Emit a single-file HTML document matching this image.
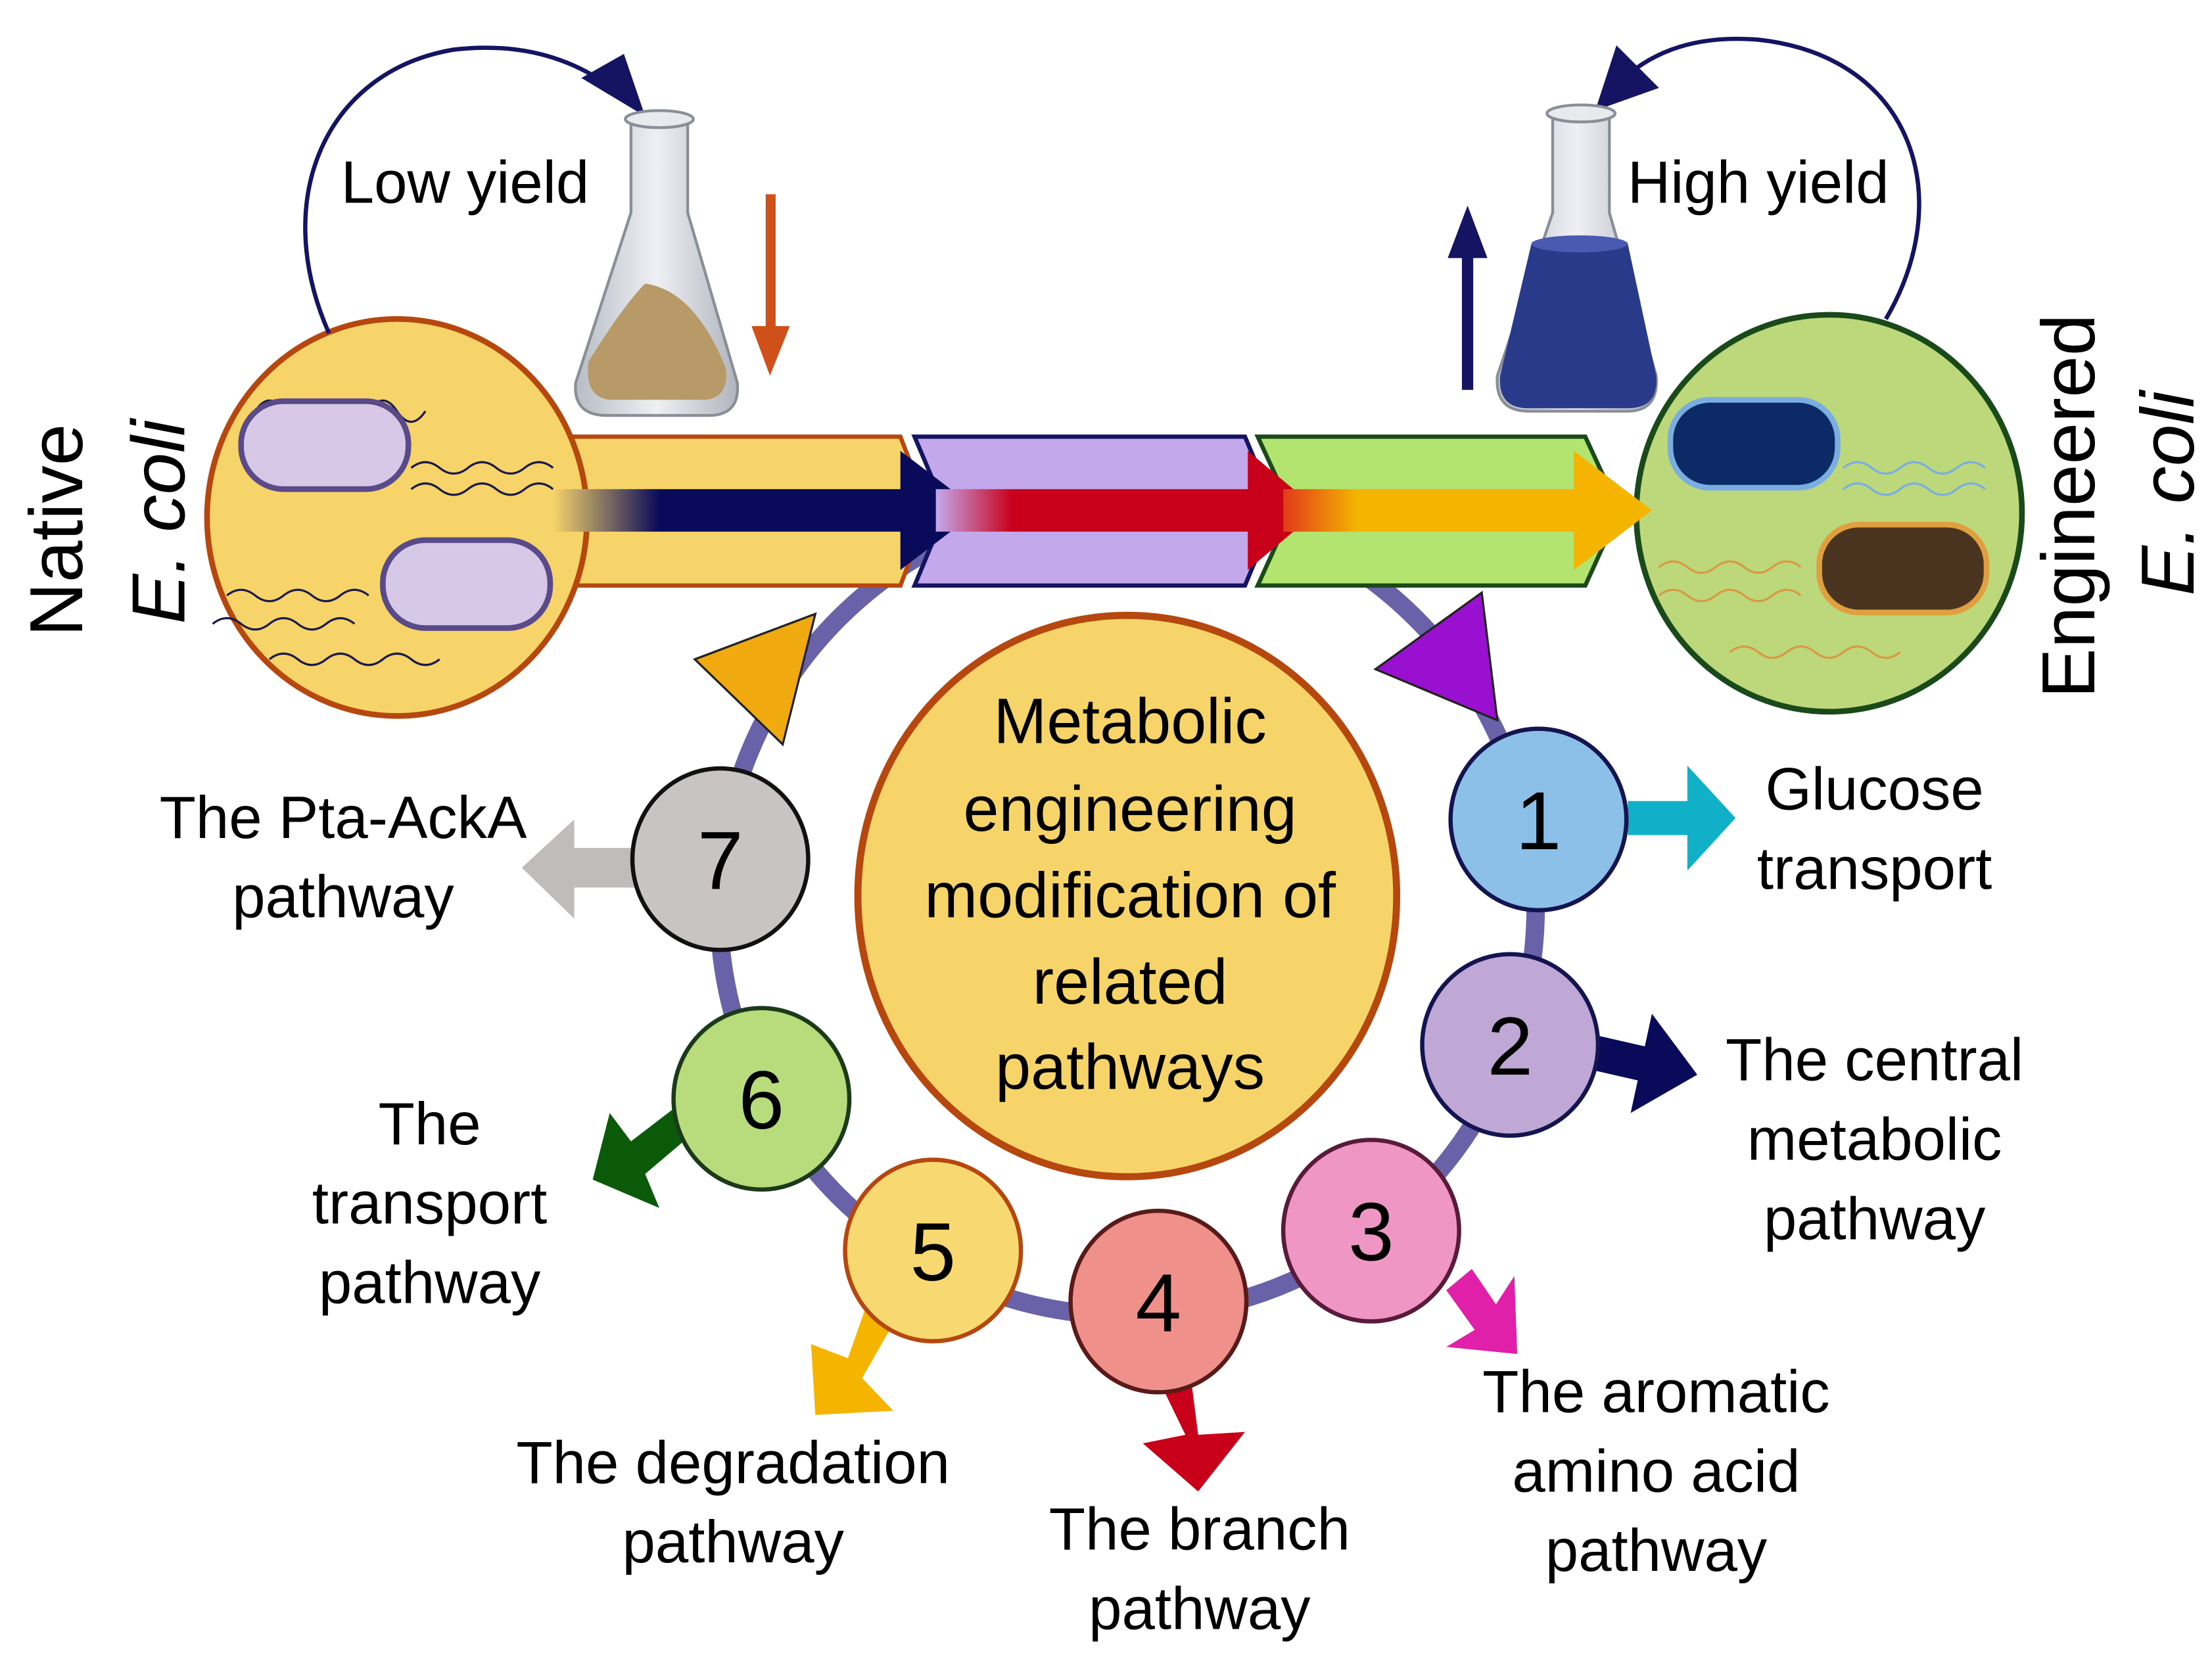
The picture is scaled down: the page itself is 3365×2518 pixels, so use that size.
<!DOCTYPE html>
<html><head><meta charset="utf-8"><style>
html,body{margin:0;padding:0;background:#fff}
svg{display:block}
text{font-family:"Liberation Sans",Arial,sans-serif;fill:#000}
</style></head><body>
<svg width="3365" height="2518" viewBox="0 0 1560 1167.3" preserveAspectRatio="none" xmlns="http://www.w3.org/2000/svg">
<defs>
<linearGradient id="g1" x1="0" x2="1"><stop offset="0" stop-color="#f6d469"/><stop offset="0.25" stop-color="#0a0a5a"/><stop offset="1" stop-color="#0a0a5a"/></linearGradient>
<linearGradient id="g2" x1="0" x2="1"><stop offset="0" stop-color="#c4a8ec"/><stop offset="0.2" stop-color="#c8001a"/><stop offset="1" stop-color="#c8001a"/></linearGradient>
<linearGradient id="g3" x1="0" x2="1"><stop offset="0" stop-color="#e23a1a"/><stop offset="0.2" stop-color="#f4b400"/><stop offset="1" stop-color="#f4b400"/></linearGradient>
<linearGradient id="fl" x1="0" x2="1"><stop offset="0" stop-color="#b8bcc4"/><stop offset="0.5" stop-color="#eef0f4"/><stop offset="1" stop-color="#b0b4bc"/></linearGradient>
</defs>

<circle cx="795" cy="640" r="288" fill="none" stroke="#6a62a8" stroke-width="13"/>

<polygon points="400,308 635,308 655,360 635,413 400,413" fill="#f6d469" stroke="#b5470f" stroke-width="3"/>
<polygon points="645,308 878,308 900,360 878,413 645,413 667,360" fill="#c4a8ec" stroke="#141463" stroke-width="3"/>
<polygon points="887,308 1118,308 1142,360 1118,413 887,413 911,360" fill="#b4e470" stroke="#1a4a1a" stroke-width="3"/>

<ellipse cx="280" cy="365" rx="134" ry="140" fill="#f6d469" stroke="#b5470f" stroke-width="4"/>
<g fill="none" stroke="#1a1a4a" stroke-width="1.5">
<path d="M180,290 q10,-15 20,0 t20,0 t20,0 t20,0 t20,0 t20,0"/>
<path d="M290,330 q10,-8 20,0 t20,0 t20,0 t20,0 t20,0"/>
<path d="M290,345 q10,-8 20,0 t20,0 t20,0 t20,0 t20,0"/>
<path d="M160,420 q10,-8 20,0 t20,0 t20,0 t20,0 t20,0"/>
<path d="M150,440 q10,-8 20,0 t20,0 t20,0 t20,0 t20,0"/>
<path d="M190,465 q10,-8 20,0 t20,0 t20,0 t20,0 t20,0 t20,0"/>
</g>
<rect x="170" y="283" width="118" height="62" rx="30" fill="#d8c8e8" stroke="#5a4a8a" stroke-width="4"/>
<rect x="270" y="381" width="118" height="62" rx="30" fill="#d8c8e8" stroke="#5a4a8a" stroke-width="4"/>

<ellipse cx="1290" cy="362" rx="136" ry="140" fill="#bcd87a" stroke="#1a4a1a" stroke-width="4"/>
<g fill="none" stroke-width="1.5">
<path d="M1300,330 q10,-8 20,0 t20,0 t20,0 t20,0 t20,0" stroke="#7aaee0"/>
<path d="M1300,345 q10,-8 20,0 t20,0 t20,0 t20,0 t20,0" stroke="#7aaee0"/>
<path d="M1170,400 q10,-8 20,0 t20,0 t20,0 t20,0 t20,0" stroke="#d89a40"/>
<path d="M1170,420 q10,-8 20,0 t20,0 t20,0 t20,0 t20,0" stroke="#d89a40"/>
<path d="M1220,460 q10,-8 20,0 t20,0 t20,0 t20,0 t20,0 t20,0" stroke="#d89a40"/>
</g>
<rect x="1178" y="282" width="118" height="62" rx="28" fill="#0c2a66" stroke="#7aaee0" stroke-width="4"/>
<rect x="1283" y="370" width="118" height="62" rx="28" fill="#4a3420" stroke="#e0a040" stroke-width="4"/>

<polygon points="390,345 635,345 635,318 690,360 635,402 635,375 390,375" fill="url(#g1)"/>
<polygon points="660,345 880,345 880,318 930,360 880,402 880,375 660,375" fill="url(#g2)"/>
<polygon points="905,345 1110,345 1110,318 1165,360 1110,402 1110,375 905,375" fill="url(#g3)"/>

<path d="M232,235 C190,140 230,50 320,35 C380,28 420,50 440,70" fill="none" stroke="#141463" stroke-width="3"/>
<polygon points="410,55 455,82 440,38" fill="#141463"/>
<path d="M1330,225 C1380,140 1350,40 1240,28 C1190,24 1160,40 1140,60" fill="none" stroke="#141463" stroke-width="3"/>
<polygon points="1125,78 1170,62 1140,32" fill="#141463"/>

<g>
<path d="M445,85 L485,85 L485,150 L520,270 Q522,293 500,293 L428,293 Q404,293 406,270 L445,150 Z" fill="url(#fl)" stroke="#8a8e96" stroke-width="2"/>
<ellipse cx="465" cy="84" rx="24" ry="6" fill="#e8eaee" stroke="#8a8e96" stroke-width="2"/>
<path d="M415,255 Q440,215 455,200 Q490,205 512,260 Q514,280 498,282 L430,282 Q412,280 415,255 Z" fill="#b89a68"/>
</g>
<g>
<path d="M1095,82 L1135,82 L1135,150 L1168,265 Q1170,290 1148,290 L1078,290 Q1054,290 1056,265 L1095,150 Z" fill="url(#fl)" stroke="#8a8e96" stroke-width="2"/>
<ellipse cx="1115" cy="80" rx="24" ry="6" fill="#e8eaee" stroke="#8a8e96" stroke-width="2"/>
<path d="M1080,172 L1148,172 L1168,265 Q1170,288 1148,288 L1078,288 Q1056,288 1058,265 Z" fill="#2a3a8a"/>
<ellipse cx="1114" cy="172" rx="34" ry="6" fill="#4a5ab0"/>
</g>
<rect x="540" y="137" width="7" height="95" fill="#d0501a"/><polygon points="530,230 557,230 543,265" fill="#d0501a"/>
<rect x="1031" y="180" width="8" height="95" fill="#141463"/><polygon points="1021,182 1049,182 1035,145" fill="#141463"/>

<polygon points="490,465 575,433 552,525" fill="#f0aa10" stroke="#222" stroke-width="1.5"/>
<polygon points="970,472 1045,418 1056,508" fill="#9a10d0" stroke="#222" stroke-width="1.5"/>

<ellipse cx="795" cy="632" rx="190" ry="198" fill="#f6d469" stroke="#b5470f" stroke-width="5"/>
<g font-size="45" text-anchor="middle">
<text x="797" y="524">Metabolic</text>
<text x="797" y="586">engineering</text>
<text x="797" y="647">modification of</text>
<text x="797" y="708">related</text>
<text x="797" y="768">pathways</text>
</g>

<polygon points="1148,565 1190,565 1190,540 1224,577 1190,614 1190,589 1148,589" fill="#10b0c8"/>
<polygon points="1125,730 1160,738 1165,715 1197,758 1150,785 1155,762 1120,754" fill="#0a0a5a"/>
<polygon points="1020,910 1038,895 1055,920 1068,900 1070,955 1020,950 1040,938" fill="#e020a8"/>
<polygon points="818,975 840,973 845,1012 878,1010 845,1052 806,1018 836,1012" fill="#c8001a"/>
<polygon points="632,930 612,918 598,958 572,948 575,998 630,995 608,972" fill="#f4b400"/>
<polygon points="488,800 475,782 445,805 430,785 418,832 465,852 455,828" fill="#0a5a0a"/>
<polygon points="448,598 405,598 405,578 368,612 405,648 405,626 448,626" fill="#c0bcbc"/>

<g stroke="#141450" stroke-width="3">
<ellipse cx="1085" cy="578" rx="62" ry="64" fill="#8cc0e8"/>
<ellipse cx="1065" cy="737" rx="62" ry="64" fill="#c0a8d6"/>
<ellipse cx="967" cy="868" rx="62" ry="64" fill="#f096c4" stroke="#5a1a3a"/>
<ellipse cx="817" cy="918" rx="62" ry="64" fill="#f0908a" stroke="#5a1a1a"/>
<ellipse cx="658" cy="882" rx="62" ry="64" fill="#f8d870" stroke="#b5470f"/>
<ellipse cx="537" cy="775" rx="62" ry="64" fill="#b8dc7c" stroke="#1a3a1a"/>
<ellipse cx="508" cy="606" rx="62" ry="64" fill="#c8c4c4" stroke="#111"/>
</g>
<g font-size="58" text-anchor="middle">
<text x="1085" y="599">1</text><text x="1065" y="758">2</text><text x="967" y="889">3</text>
<text x="817" y="939">4</text><text x="658" y="903">5</text><text x="537" y="796">6</text><text x="508" y="627">7</text>
</g>

<g font-size="42" text-anchor="middle">
<text x="1322" y="571">Glucose</text><text x="1322" y="627">transport</text>
<text x="1322" y="762">The central</text><text x="1322" y="818">metabolic</text><text x="1322" y="874">pathway</text>
<text x="1168" y="996">The aromatic</text><text x="1168" y="1052">amino acid</text><text x="1168" y="1108">pathway</text>
<text x="846" y="1093">The branch</text><text x="846" y="1149">pathway</text>
<text x="517" y="1046">The degradation</text><text x="517" y="1102">pathway</text>
<text x="303" y="807">The</text><text x="303" y="863">transport</text><text x="303" y="919">pathway</text>
<text x="242" y="591">The Pta-AckA</text><text x="242" y="647">pathway</text>
<text x="328" y="143">Low yield</text>
<text x="1240" y="143">High yield</text>
</g>
<g font-size="53" text-anchor="middle">
<text transform="translate(58,374) rotate(-90)">Native</text>
<text transform="translate(130,368) rotate(-90)" font-style="italic">E. coli</text>
<text transform="translate(1477,357) rotate(-90)">Engineered</text>
<text transform="translate(1547,348) rotate(-90)" font-style="italic">E. coli</text>
</g>
</svg>
</body></html>
